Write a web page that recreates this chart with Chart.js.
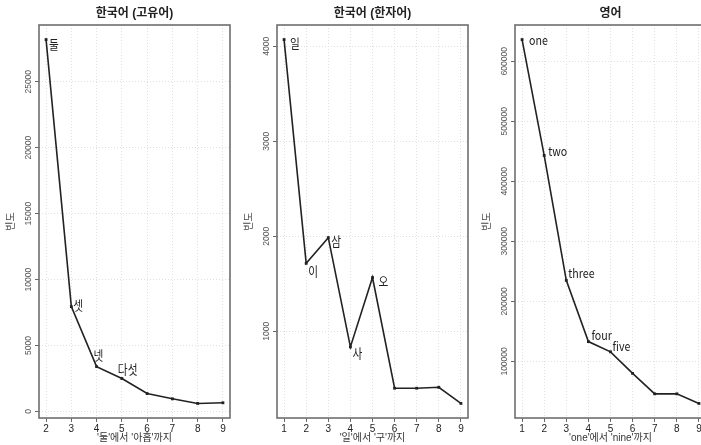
<!DOCTYPE html>
<html>
<head>
<meta charset="utf-8">
<script src="https://cdn.jsdelivr.net/npm/chart.js@4.4.1/dist/chart.umd.min.js"></script>
<style>
  html, body { margin:0; padding:0; background:#fff; width:701px; height:445px; overflow:hidden; }
  .panel { position:absolute; top:0; width:238px; height:445px; }
</style>
</head>
<body>
<div class="panel" style="left:0px"><canvas id="c1" width="238" height="445"></canvas></div>
<div class="panel" style="left:238px"><canvas id="c2" width="238" height="445"></canvas></div>
<div class="panel" style="left:476px"><canvas id="c3" width="238" height="445"></canvas></div>
<script>
// ---- data ----
const x1 = [2, 3, 4, 5, 6, 7, 8, 9];
const freq1 = [28200, 7950, 3400, 2500, 1360, 960, 610, 660];
const words1 = ['둘', '셋', '넷', '다섯'];

const x2 = [1, 2, 3, 4, 5, 6, 7, 8, 9];
const freq2 = [4070, 1715, 1985, 835, 1565, 400, 400, 410, 240];
const words2 = ['일', '이', '삼', '사', '오'];

const x3 = [1, 2, 3, 4, 5, 6, 7, 8, 9];
const freq3 = [636000, 443000, 235000, 133000, 116000, 80000, 46000, 46000, 30000];
const words3 = ['one', 'two', 'three', 'four', 'five'];

const yTicks1 = [0, 5000, 10000, 15000, 20000, 25000];
const yTicks2 = [1000, 2000, 3000, 4000];
const yTicks3 = [100000, 200000, 300000, 400000, 500000, 600000];

const titles = ['한국어 (고유어)', '한국어 (한자어)', '영어'];
const xTitles = ["'둘'에서 '아홉'까지", "'일'에서 '구'까지", "'one'에서 'nine'까지"];
const yTitle = '빈도';

// label placement styles (pixel offsets from the point)
const labelOffsets1 = [[3, 5], [2, -2], [-3, -12], [-4, -9]];
const labelOffsets2 = [[6, 4], [2, 8], [3, 3], [2, 6], [6, 4]];
const labelOffsets3 = [[7, 1], [4, -4], [2, -7], [3, -7], [2, -6]];

Chart.defaults.font.family = "'Liberation Sans', 'Noto Sans CJK KR', sans-serif";

function padRange(vals) {
  const lo = Math.min(...vals), hi = Math.max(...vals);
  const d = (hi - lo) * 0.04;
  return [lo - d, hi + d];
}

const framePlugin = {
  id: 'frame',
  afterDraw(chart, args, opts) {
    const ctx = chart.ctx;
    const a = chart.chartArea;
    const ys = chart.scales.y;
    // title centred over the plot region
    ctx.save();
    ctx.font = "bold 12px 'Liberation Sans', 'Noto Sans CJK KR', sans-serif";
    ctx.fillStyle = '#222';
    ctx.textAlign = 'center';
    ctx.textBaseline = 'middle';
    ctx.fillText(opts.title, (a.left + a.right) / 2, 14);
    ctx.restore();
    // y tick labels (rotated like R)
    ctx.save();
    ctx.font = "8.5px 'Liberation Sans', sans-serif";
    ctx.fillStyle = '#555';
    ctx.textAlign = 'center';
    ctx.textBaseline = 'middle';
    ys.ticks.forEach(t => {
      const y = ys.getPixelForValue(t.value);
      ctx.save();
      ctx.translate(a.left - 10, y);
      ctx.rotate(-Math.PI / 2);
      ctx.fillText(String(t.value), 0, 0);
      ctx.restore();
    });
    ctx.restore();
    // point labels
    ctx.save();
    ctx.font = "13px 'Noto Sans CJK KR', 'Noto Sans', sans-serif";
    ctx.fillStyle = '#222';
    ctx.textAlign = 'left';
    ctx.textBaseline = 'middle';
    const meta = chart.getDatasetMeta(0);
    opts.words.forEach((w, i) => {
      const p = meta.data[i];
      const off = opts.offsets[i];
      ctx.save();
      ctx.translate(p.x + off[0], p.y + off[1]);
      ctx.scale(0.82, 1);
      ctx.fillText(w, 0, 0);
      ctx.restore();
    });
    ctx.restore();
    // box
    ctx.save();
    ctx.strokeStyle = '#6e6e6e';
    ctx.lineWidth = 1.6;
    ctx.strokeRect(a.left, a.top, a.right - a.left, a.bottom - a.top);
    ctx.restore();
  }
};

function makeChart(id, xs, ys, yTicks, words, offsets, title, xTitle) {
  const [xmin, xmax] = padRange(xs);
  const [ymin, ymax] = padRange(ys);
  const gridCommon = {
    color: '#e0e0e0',
    lineWidth: 1,
    tickColor: '#666',
    tickLength: 4,
    tickWidth: 1,
    tickBorderDash: []
  };
  return new Chart(document.getElementById(id), {
    type: 'line',
    data: {
      datasets: [{
        data: xs.map((x, i) => ({ x: x, y: ys[i] })),
        borderColor: '#222',
        borderWidth: 1.6,
        backgroundColor: '#222',
        pointStyle: 'rect',
        pointRadius: 2,
        pointBorderWidth: 0,
        tension: 0
      }]
    },
    options: {
      responsive: false,
      animation: false,
      devicePixelRatio: 1,
      layout: { padding: { left: 0, right: 8, top: 25, bottom: 0 } },
      plugins: {
        legend: { display: false },
        tooltip: { enabled: false },
        title: { display: false },
        frame: { words: words, offsets: offsets, title: title }
      },
      scales: {
        x: {
          type: 'linear',
          min: xmin,
          max: xmax,
          afterBuildTicks: s => { s.ticks = xs.map(v => ({ value: v })); },
          afterFit: s => { s.height = 27; },
          ticks: { color: '#222', font: { size: 10 }, padding: 1, maxRotation: 0, autoSkip: false, callback: v => String(v) },
          grid: gridCommon,
          border: { display: false, dash: [1, 2] },
          title: { display: true, text: xTitle, color: '#333', font: { size: 10 }, padding: { top: 0, bottom: 1 } }
        },
        y: {
          type: 'linear',
          min: ymin,
          max: ymax,
          afterBuildTicks: s => { s.ticks = yTicks.map(v => ({ value: v })); },
          afterFit: s => { s.width = 39; },
          ticks: { display: false },
          grid: gridCommon,
          border: { display: false, dash: [1, 2] },
          title: { display: true, text: yTitle, color: '#444', font: { size: 10 }, padding: { top: 5, bottom: 0 } }
        }
      }
    },
    plugins: [framePlugin]
  });
}

makeChart('c1', x1, freq1, yTicks1, words1, labelOffsets1, titles[0], xTitles[0]);
makeChart('c2', x2, freq2, yTicks2, words2, labelOffsets2, titles[1], xTitles[1]);
makeChart('c3', x3, freq3, yTicks3, words3, labelOffsets3, titles[2], xTitles[2]);
</script>
</body>
</html>
